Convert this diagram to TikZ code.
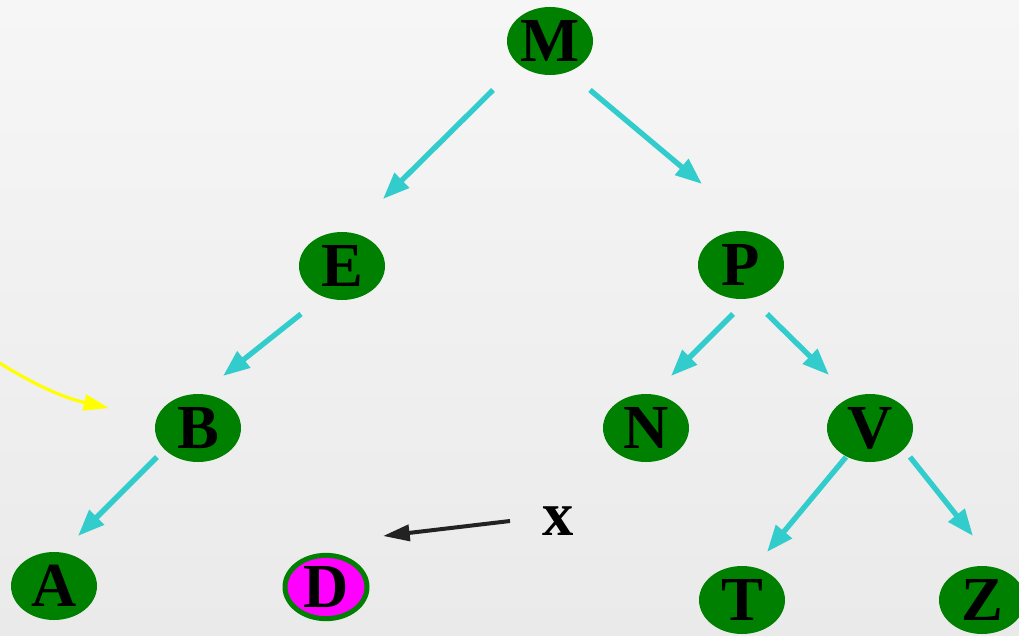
\documentclass[tikz,border=0pt]{standalone}
\usepackage{fontspec}
\setmainfont{Liberation Serif}
\usetikzlibrary{shapes.geometric,arrows.meta,calc}
\definecolor{treegreen}{HTML}{008000}
\definecolor{arrcyan}{HTML}{33CCCC}
\definecolor{bgtop}{HTML}{F6F6F6}
\definecolor{bgbot}{HTML}{EAEAEA}
\definecolor{darkarrow}{HTML}{222222}
\definecolor{markfill}{HTML}{FF00FF}
\definecolor{hintyellow}{HTML}{FFFF00}
\begin{document}
\begin{tikzpicture}[x=0.75pt,y=-0.75pt,
  vert/.style={ellipse, fill=treegreen, inner sep=0pt, minimum width=64.5pt, minimum height=51pt},
  markedvert/.style={ellipse, fill=markfill, draw=treegreen, line width=3.75pt, inner sep=0pt, minimum width=61.5pt, minimum height=47.5pt},
  lettr/.style={font=\fontsize{47}{47}\selectfont\bfseries, text=black, inner sep=0pt},
  treeedge/.style={arrcyan, line width=4pt, -{Triangle[length=20pt,width=15pt]}},
  pointer/.style={darkarrow, line width=3pt, -{Triangle[length=20pt,width=12pt]}},
  hint/.style={hintyellow, line width=2.4pt, -{Triangle[length=19pt,width=12pt]}}]
\shade[top color=bgtop,bottom color=bgbot] (0,0) rectangle (1019,635);
\useasboundingbox (0,0) rectangle (1019,635);
\clip (0,0) rectangle (1019,635);

\node[vert,label={[lettr]center:M}] (M) at (550,41) {};
\node[vert,label={[lettr]center:E}] (E) at (342,266) {};
\node[vert,label={[lettr]center:P}] (P) at (741,265) {};
\node[vert,label={[lettr]center:B}] (B) at (198,428) {};
\node[vert,label={[lettr]center:N}] (N) at (646,428) {};
\node[vert,label={[lettr]center:V}] (V) at (870,428) {};
\node[vert,label={[lettr]center:A}] (A) at (54,586) {};
\node[markedvert,label={[lettr]center:D}] (D) at (326,587) {};
\node[vert,label={[lettr]center:T}] (T) at (742,600) {};
\node[vert,label={[lettr]center:Z}] (Z) at (982,600) {};
\node[lettr] (X) at (558,521) {x};

\draw[treeedge] ($(M)+(-57,49)$) -- ($(E)+(41,-67)$);
\draw[treeedge] ($(M)+(40,49)$) -- ($(P)+(-39,-81)$);
\draw[treeedge] ($(E)+(-41,48)$) -- ($(B)+(25,-52)$);
\draw[treeedge] ($(P)+(-8,49)$) -- ($(N)+(25,-52)$);
\draw[treeedge] ($(P)+(26,49)$) -- ($(V)+(-41,-53)$);
\draw[treeedge] ($(B)+(-41,29)$) -- ($(A)+(24,-50)$);
\draw[treeedge] ($(V)+(-24,29)$) -- ($(T)+(25,-48)$);
\draw[treeedge] ($(V)+(40,29)$) -- ($(Z)+(-9,-64)$);

\draw[pointer] ($(X)+(-48,0)$) -- ($(D)+(57,-51)$);

\coordinate (hintstart) at (-2,362);
\coordinate (hintend) at (109,408);
\draw[hint] (hintstart) .. controls (30,382) and (60,397) .. (hintend);
\end{tikzpicture}
\end{document}
